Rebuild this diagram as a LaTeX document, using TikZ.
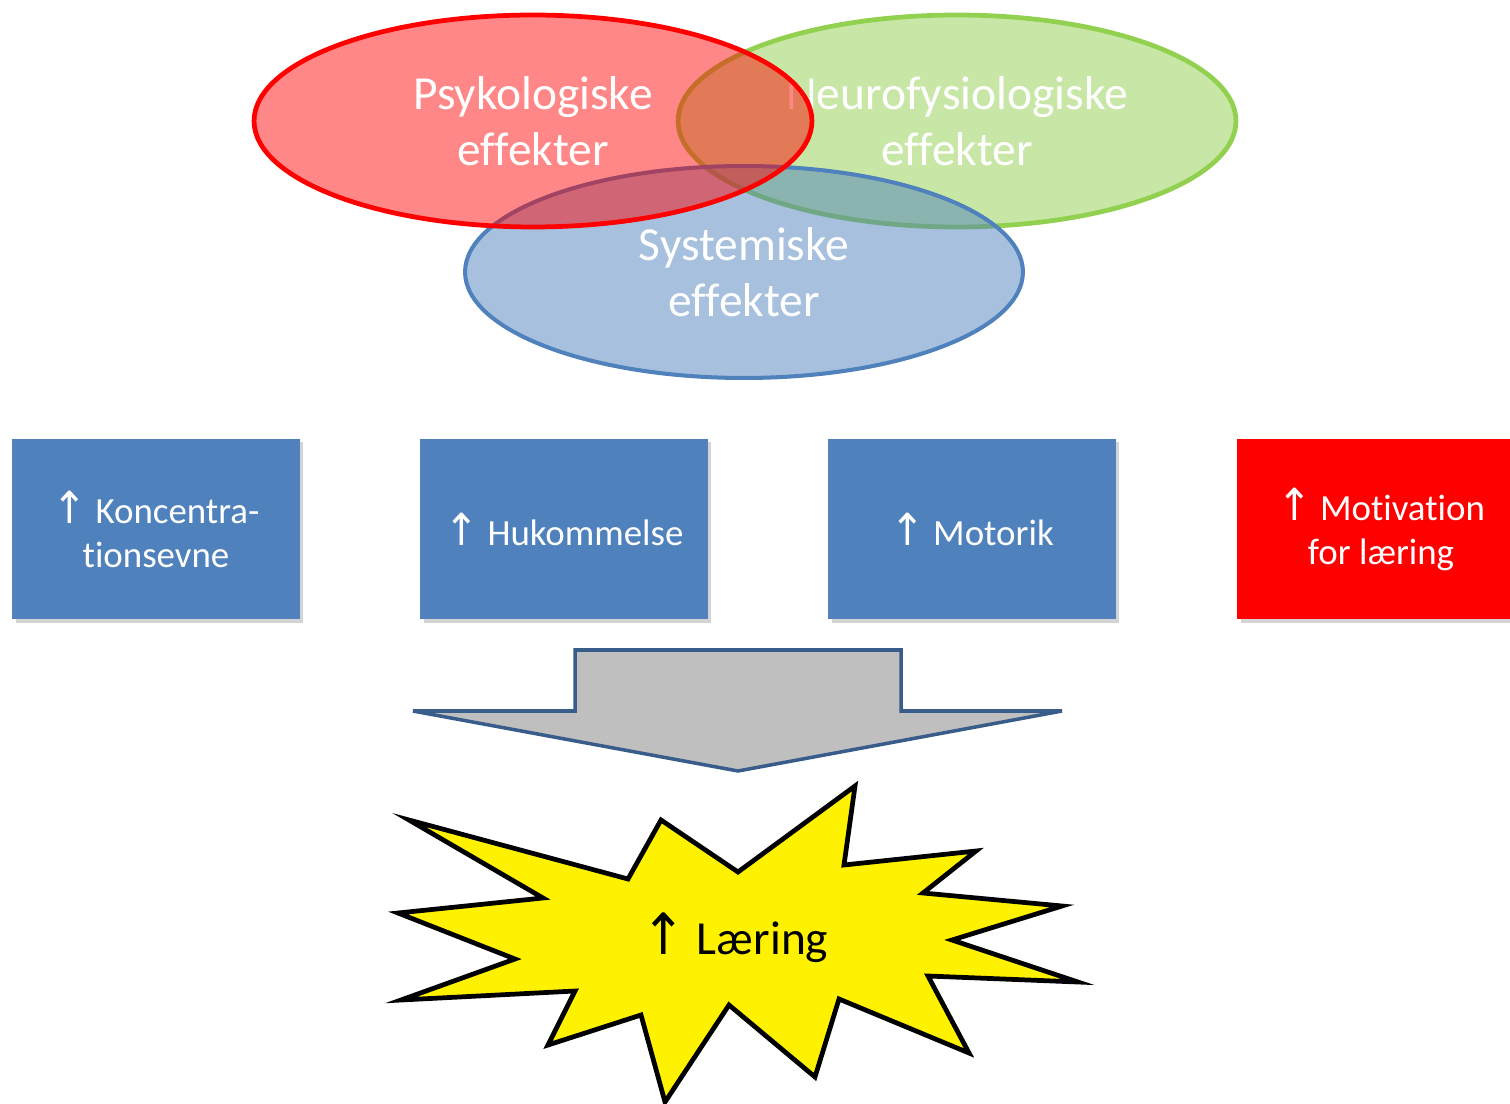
\documentclass[tikz,border=0pt]{standalone}
\usepackage{fontspec}
\setmainfont[Ligatures=NoCommon]{Carlito}
\newfontfamily\arrowfont{DejaVu Sans}
\newcommand{\uparr}{\scalebox{1.12}[1.2]{\arrowfont ↑}}
\usetikzlibrary{shapes.geometric,shadows}

\definecolor{venngreen}{RGB}{146,208,80}
\definecolor{vennblue}{RGB}{79,129,189}
\definecolor{boxblue}{RGB}{79,129,189}
\definecolor{arrowline}{RGB}{56,93,138}
\definecolor{arrowgray}{RGB}{191,191,191}

\begin{document}
\begin{tikzpicture}[x=0.02cm,y=-0.02cm,
   venn/.style={ellipse, inner sep=0pt, minimum width=11.16cm, minimum height=4.24cm,
     line width=2.7pt, fill opacity=0.5, text opacity=1, text=white, align=center,
     font=\fontsize{27}{32}\selectfont},
   effbox/.style={rectangle, inner sep=0pt, minimum width=5.76cm, minimum height=3.62cm,
     fill=boxblue, text=white, align=center, font=\fontsize{21}{25}\selectfont,
     drop shadow={shadow xshift=0.07cm, shadow yshift=-0.07cm, opacity=0.35}}]
   \useasboundingbox (0,0) rectangle (1510,1104);

   % effekter
   \node[venn, draw=venngreen, fill=venngreen] (neuro) at (957,121) {Neurofysiologiske\\effekter};
   \node[venn, draw=vennblue, line width=2.3pt, fill=vennblue] (syst) at (744,272) {Systemiske\\effekter};
   \node[venn, draw=red, fill=red, fill opacity=0.47] (psyk) at (533,121) {Psykologiske\\effekter};

   \node[effbox] (konc) at (156,529) {\uparr\ Koncentra-\\tionsevne};
   \node[effbox] (huk) at (564,529) {\uparr\ Hukommelse};
   \node[effbox] (mot) at (972,529) {\uparr\ Motorik};
   \node[effbox, fill=red] (motiv) at (1381,529) {\uparr\ Motivation\\for læring};

   \draw[line width=2pt, draw=arrowline, fill=arrowgray]
     (575,650) -- (901,650) -- (901,711) -- (1062,711) -- (738,771) -- (413,711) -- (575,711) -- cycle;

   % eksplosion
   \draw[line width=2.7pt, fill=yellow] plot coordinates {(409,820) (628,879) (661,820) (738,872)
     (855,786) (844,865) (976,851) (923,893) (1062,906) (952,940) (1078,982) (928,976)
     (969,1053) (839,999) (815,1077) (729,1005) (665,1102) (641,1015) (548,1045) (575,991)
     (401,1000) (515,959) (398,913) (543,898)} -- cycle;
   \node[font=\fontsize{27}{32}\selectfont] (laering) at (735,938) {\uparr\ Læring};
\end{tikzpicture}
\end{document}
